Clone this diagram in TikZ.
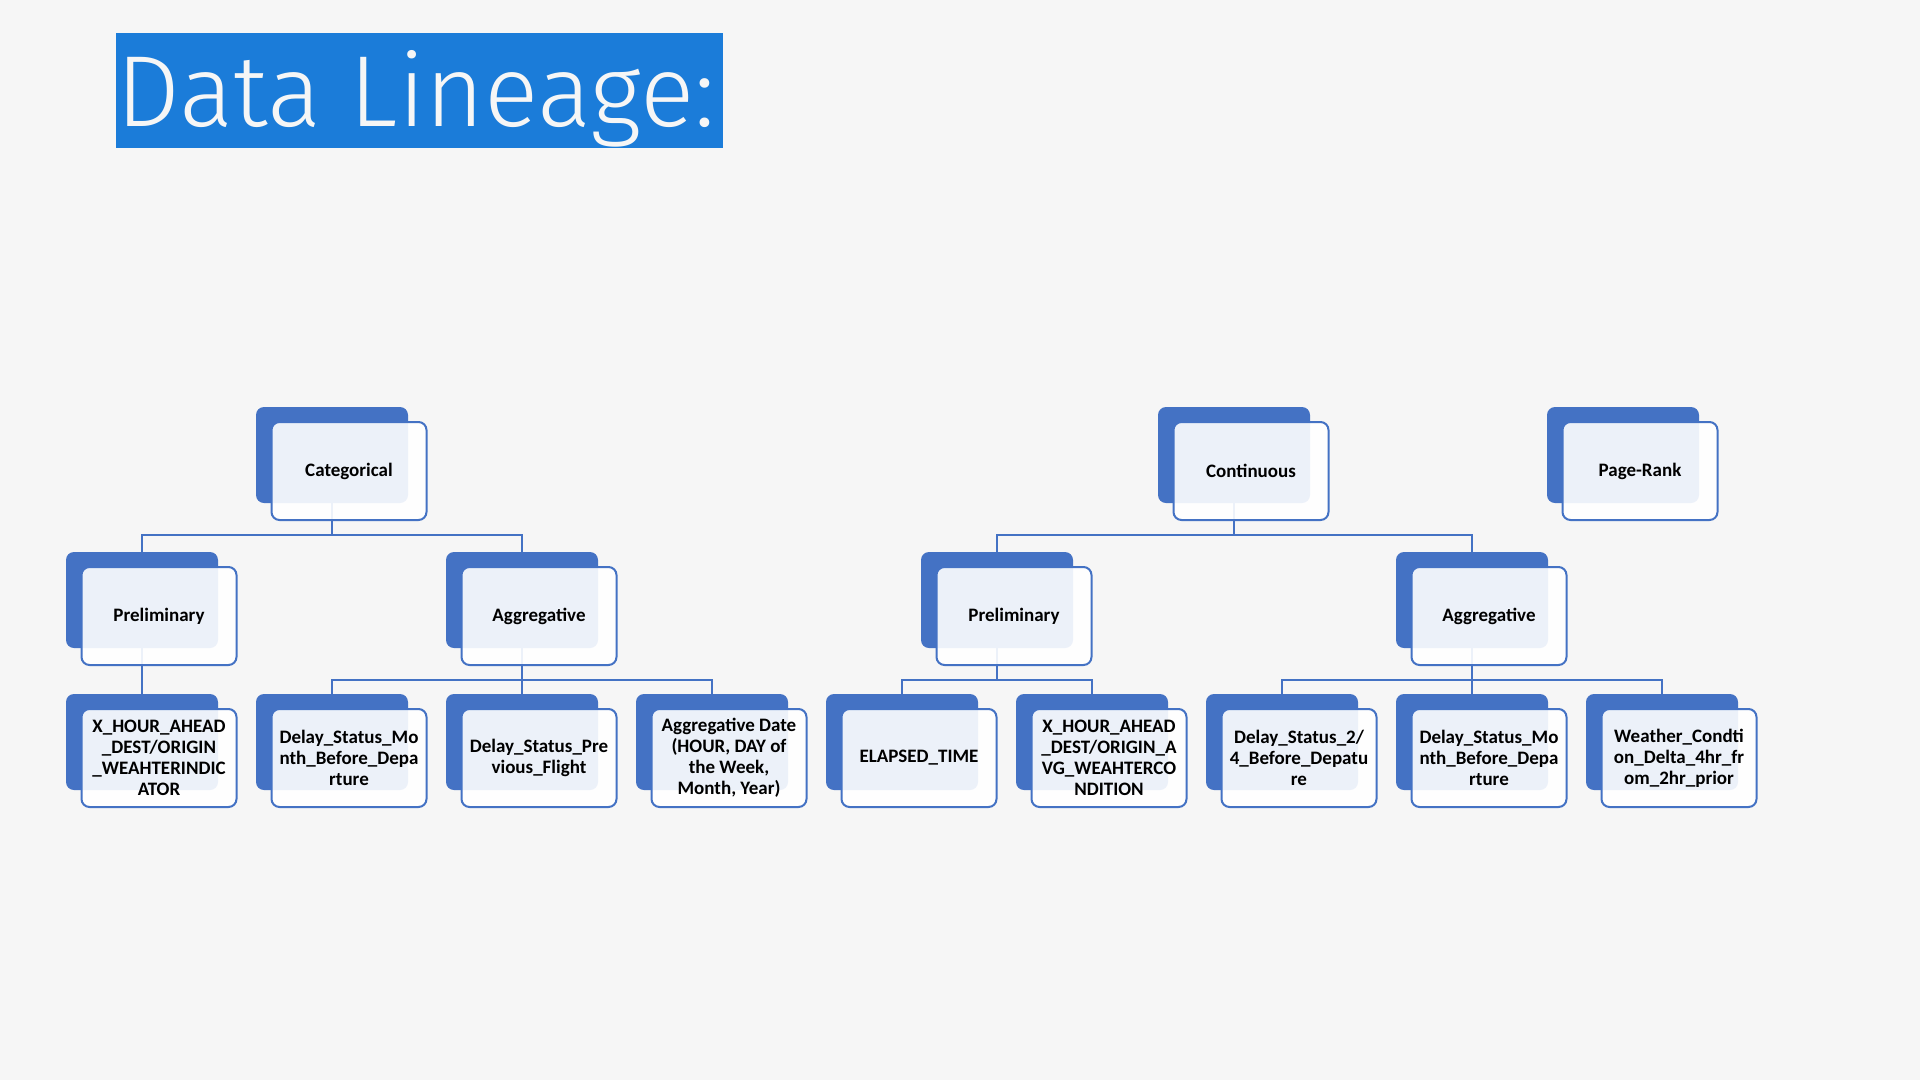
\documentclass[tikz,border=0pt]{standalone}
\usepackage{fontspec}
\setmainfont{Carlito}
\newfontfamily\titlefont{Fira Sans Light}
\definecolor{bggray}{HTML}{F6F6F6}
\definecolor{titleblue}{HTML}{1B7CD9}
\definecolor{boxblue}{HTML}{4472C4}

\begin{document}
\begin{tikzpicture}[x=1pt, y=-1pt,
  back/.style={fill=boxblue, rounded corners=8pt, minimum width=152pt, minimum height=96pt, inner sep=0pt},
  front/.style={draw=boxblue, line width=2pt, fill=white, fill opacity=0.9, text opacity=1, rounded corners=8pt,
    minimum width=155pt, minimum height=98pt, inner sep=0pt, align=center,
    font=\bfseries\fontsize{19}{21}\selectfont},
  link/.style={draw=boxblue, line width=2pt}]
\useasboundingbox[fill=bggray] (0,0) rectangle (1920,1080);

% Title
\node[fill=titleblue, minimum width=607pt, minimum height=115pt, inner sep=0pt] (title) at (419.5,90.5) {};
\node[anchor=base, inner sep=0pt, text=bggray, font=\titlefont\fontsize{101}{101}\selectfont] (titletext) at (416,126) {Data Lineage:};

% Level 1: Categories (back plates)
\node[back] (cat-b) at (332,455) {};
\node[back] (cont-b) at (1234,455) {};
\node[back] (rank-b) at (1623,455) {};

% Level 2: Types
\node[back] (pre1-b) at (142,600) {};
\node[back] (agg1-b) at (522,600) {};
\node[back] (pre2-b) at (997,600) {};
\node[back] (agg2-b) at (1472,600) {};

% Level 3: Features
\node[back] (leaf1-b) at (142,742) {};
\node[back] (leaf2-b) at (332,742) {};
\node[back] (leaf3-b) at (522,742) {};
\node[back] (leaf4-b) at (712,742) {};
\node[back] (leaf5-b) at (902,742) {};
\node[back] (leaf6-b) at (1092,742) {};
\node[back] (leaf7-b) at (1282,742) {};
\node[back] (leaf8-b) at (1472,742) {};
\node[back] (leaf9-b) at (1662,742) {};

% Lines (Level 1 to Level 2)
\draw[link] (cat-b.south) -- ++(0,32) -| (pre1-b.north);
\draw[link] (cat-b.south) -- ++(0,32) -| (agg1-b.north);
\draw[link] (cont-b.south) -- ++(0,32) -| (pre2-b.north);
\draw[link] (cont-b.south) -- ++(0,32) -| (agg2-b.north);

% Lines (Level 2 to Level 3)
\draw[link] (pre1-b.south) -- (leaf1-b.north);
\foreach \c in {leaf2,leaf3,leaf4}
  \draw[link] (agg1-b.south) -- ++(0,32) -| (\c-b.north);
\foreach \c in {leaf5,leaf6}
  \draw[link] (pre2-b.south) -- ++(0,32) -| (\c-b.north);
\foreach \c in {leaf7,leaf8,leaf9}
  \draw[link] (agg2-b.south) -- ++(0,32) -| (\c-b.north);

% Front cards with the labels
\node[front] (cat) at ([shift={(17,16)}]cat-b) {Categorical};
\node[front] (cont) at ([shift={(17,16)}]cont-b) {Continuous};
\node[front] (rank) at ([shift={(17,16)}]rank-b) {Page-Rank};

\node[front] (pre1) at ([shift={(17,16)}]pre1-b) {Preliminary};
\node[front] (agg1) at ([shift={(17,16)}]agg1-b) {Aggregative};
\node[front] (pre2) at ([shift={(17,16)}]pre2-b) {Preliminary};
\node[front] (agg2) at ([shift={(17,16)}]agg2-b) {Aggregative};

\node[front] (leaf1) at ([shift={(17,16)}]leaf1-b) {X\_HOUR\_AHEAD\\\_DEST/ORIGIN\\\_WEAHTERINDIC\\ATOR};
\node[front] (leaf2) at ([shift={(17,16)}]leaf2-b) {Delay\_Status\_Mo\\nth\_Before\_Depa\\rture};
\node[front] (leaf3) at ([shift={(17,16)}]leaf3-b) {Delay\_Status\_Pre\\vious\_Flight};
\node[front] (leaf4) at ([shift={(17,16)}]leaf4-b) {Aggregative Date\\(HOUR, DAY of\\the Week,\\Month, Year)};
\node[front] (leaf5) at ([shift={(17,16)}]leaf5-b) {ELAPSED\_TIME};
\node[front] (leaf6) at ([shift={(17,16)}]leaf6-b) {X\_HOUR\_AHEAD\\\_DEST/ORIGIN\_A\\VG\_WEAHTERCO\\NDITION};
\node[front] (leaf7) at ([shift={(17,16)}]leaf7-b) {Delay\_Status\_2/\\4\_Before\_Depatu\\re};
\node[front] (leaf8) at ([shift={(17,16)}]leaf8-b) {Delay\_Status\_Mo\\nth\_Before\_Depa\\rture};
\node[front] (leaf9) at ([shift={(17,16)}]leaf9-b) {Weather\_Condti\\on\_Delta\_4hr\_fr\\om\_2hr\_prior};
\end{tikzpicture}
\end{document}
